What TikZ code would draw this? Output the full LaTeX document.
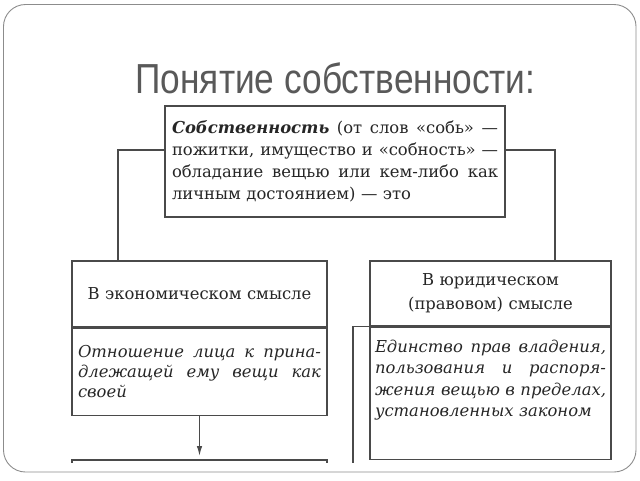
\documentclass[tikz,border=0pt]{standalone}
\usepackage{fontspec}
\setmainfont{DejaVu Serif}
\newfontfamily\titlefont{Liberation Sans}
\usetikzlibrary{positioning,arrows.meta}

\definecolor{linegray}{HTML}{4A4A4A}
\definecolor{framegray}{HTML}{8C8C8C}
\definecolor{titlegray}{HTML}{595959}
\definecolor{inkgray}{HTML}{262626}

% one justified line of a box text
\newcommand{\jline}[1]{\hbox to\hsize{\spaceskip=0pt\xspaceskip=0pt #1}}

\begin{document}
\begin{tikzpicture}[x=1pt,y=-1pt,
	box/.style={draw=linegray, line width=1.2pt, rectangle, inner sep=0pt, text=inkgray,
		font=\fontsize{16.4}{22}\selectfont},
	conn/.style={draw=linegray, line width=1.2pt}]
	\useasboundingbox (0,0) rectangle (640,480);
	\draw[framegray, line width=0.9pt, rounded corners=22pt] (3.5,4.5) rectangle (636,472);
	\node[anchor=base, text=titlegray, font=\titlefont\fontsize{42}{42}\selectfont] (title) at (335.5,93)
		{\scalebox{0.84}[1]{Понятие собственности:}};
	% definition
	\node[box, minimum width=340, minimum height=111, text width=326, align=left] (def) at (335,161.5)
		{\jline{\textbf{\textit{Собственность}} (от слов «собь» —}
		 \jline{пожитки, имущество и «собность» —}
		 \jline{обладание вещью или кем-либо как}
		 \hbox{личным достоянием) — это}};
	% economic sense
	\node[box, minimum width=255, minimum height=66, text width=255, align=center] (econ) at (199.5,294)
		{В экономическом смысле};
	\node[box, below=0pt of econ, minimum width=255, minimum height=87, text width=243, align=left,
		font=\fontsize{16.4}{20}\selectfont\itshape] (econdef)
		{\jline{Отношение лица к прина-}
		 \jline{длежащей ему вещи как}
		 \hbox{своей}};
	% legal sense
	\node[box, minimum width=241, minimum height=65, text width=241, align=center,
		font=\fontsize{16.4}{24}\selectfont] (jur) at (490.5,293.5)
		{В юридическом\\(правовом) смысле};
	\node[box, below=0pt of jur, minimum width=241, minimum height=132] (jurdef) {};
	\node[anchor=north, inner sep=0pt, text width=231, align=left, text=inkgray,
		font=\fontsize{16.4}{21.5}\selectfont\itshape] (jurtext) at ([yshift=-13pt]jurdef.north)
		{\jline{Единство прав владения,}
		 \jline{пользования и распоря-}
		 \jline{жения вещью в пределах,}
		 \hbox{установленных законом}};
	% connectors
	\draw[conn] ([yshift=11.5pt]def.west) -| ([xshift=-81.5pt]econ.north);
	\draw[conn] ([yshift=11.5pt]def.east) -| ([xshift=64.5pt]jur.north);
	\coordinate (nexttop) at (199.5,456);
	\draw[conn, -{Latex[length=10pt,width=5.5pt]}] (econdef.south) -- (nexttop);
	\draw[conn] (72,462.5) |- (327,460) -- (327,462.5);
	\coordinate (jurside) at (353,462.5);
	\draw[conn] (jurdef.north west) -| (jurside);
\end{tikzpicture}
\end{document}
